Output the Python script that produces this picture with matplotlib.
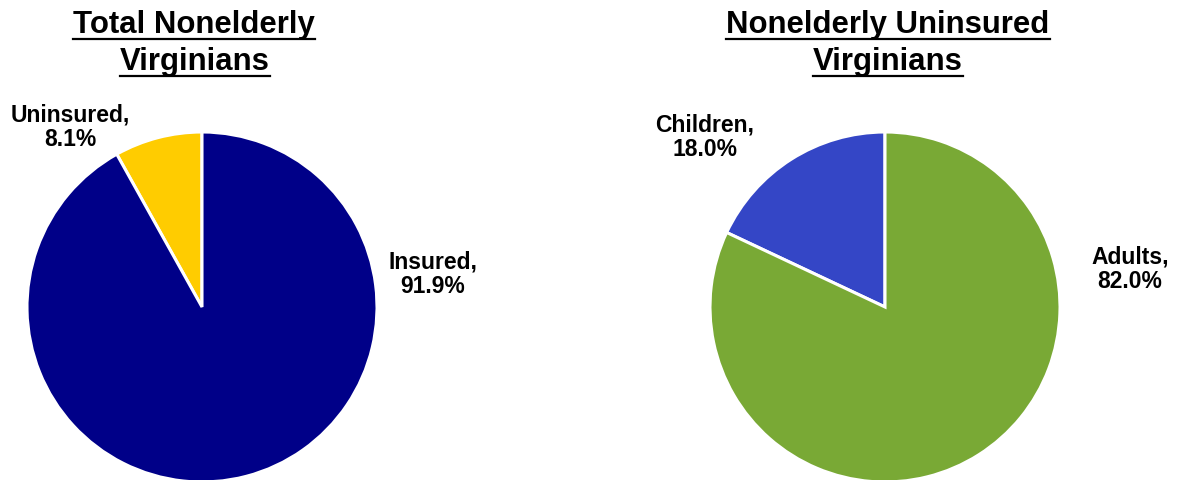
import matplotlib
matplotlib.use('Agg')
import matplotlib.pyplot as plt
from matplotlib.lines import Line2D

plt.rcParams['font.family'] = ['Liberation Sans', 'DejaVu Sans']
plt.rcParams['font.weight'] = 'bold'

# data
total_labels = ['Uninsured', 'Insured']
total_values = [8.1, 91.9]
total_colors = ['#FFCC00', '#000088']

unins_labels = ['Children', 'Adults']
unins_values = [18.0, 82.0]
unins_colors = ['#3446C6', '#79A935']

W, H = 1186, 480
fig = plt.figure(figsize=(W / 100, H / 100), dpi=100)

R = 175  # pie radius in pixels


def add_pie(cx, cy, values, labels, colors, label_pos):
    ax = fig.add_axes([(cx - R) / W, (H - cy - R) / H, 2 * R / W, 2 * R / H])
    ax.pie(values, colors=colors, startangle=90, counterclock=True,
           wedgeprops=dict(edgecolor='white', linewidth=2.2))
    ax.set_xlim(-1, 1)
    ax.set_ylim(-1, 1)
    for lab, val, (px, py) in zip(labels, values, label_pos):
        ax.text((px - cx) / R, (cy - py) / R, '%s,\n%.1f%%' % (lab, val),
                ha='center', va='center', fontsize=16.5, fontweight='bold',
                linespacing=1.1, clip_on=False)
    return ax


add_pie(202, 307, total_values, total_labels, total_colors,
        [(70, 127), (433, 274)])
add_pie(885, 307, unins_values, unins_labels, unins_colors,
        [(705, 137), (1130, 269)])


# titles with underline, one line at a time
def title_line(x, y, s):
    t = fig.text(x / W, 1 - y / H, s, ha='center', va='baseline',
                 fontsize=22.4, fontweight='bold')
    return t


titles = [title_line(194, 33, 'Total Nonelderly'),
          title_line(195, 70, 'Virginians'),
          title_line(888, 33, 'Nonelderly Uninsured'),
          title_line(888, 70, 'Virginians')]

fig.canvas.draw()
r = fig.canvas.get_renderer()
for t in titles:
    bb = t.get_window_extent(renderer=r)
    ybase = t.get_position()[1] * H - 5.5
    fig.add_artist(Line2D([bb.x0 / W, bb.x1 / W], [ybase / H, ybase / H],
                          transform=fig.transFigure, color='black', linewidth=1.6))

fig.savefig('out.png', dpi=100, facecolor='white')
